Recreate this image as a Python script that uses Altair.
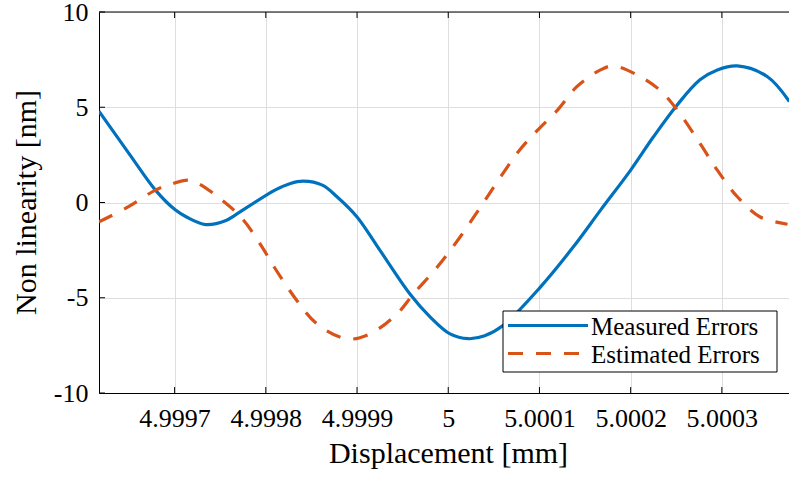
import altair as alt
import pandas as pd

# ---- data ----
series = ["Measured Errors", "Estimated Errors"]

meas_x = [4.999617, 4.999651, 4.999679, 4.999701, 4.999713, 4.999734, 4.999757,
          4.999766, 4.999810, 4.999827, 4.999841, 4.999862, 4.999878, 4.999900,
          4.999925, 4.999958, 4.999980, 5.000002, 5.000022, 5.000040, 5.000060,
          5.000101, 5.000137, 5.000167, 5.000200, 5.000225, 5.000251, 5.000276,
          5.000295, 5.000317, 5.000350, 5.000374]
meas_y = [4.8, 2.5, 0.65, -0.4, -0.76, -1.16, -0.93,
          -0.67, 0.65, 1.0, 1.12, 0.91, 0.3, -0.76,
          -2.5, -4.8, -6.0, -6.9, -7.15, -7.0, -6.46,
          -4.44, -2.34, -0.4, 1.7, 3.45, 5.12, 6.44,
          6.96, 7.17, 6.6, 5.3]

est_x = [4.999617, 4.999649, 4.999679, 4.999696, 4.999715, 4.999726, 4.999752,
         4.999774, 4.999796, 4.999808, 4.999834, 4.999856, 4.999889, 4.999914,
         4.999944, 4.999962, 4.999988, 5.000013, 5.000038, 5.000060, 5.000079,
         5.000098, 5.000120, 5.000141, 5.000167, 5.000181, 5.000207, 5.000232,
         5.000251, 5.000276, 5.000295, 5.000317, 5.000342, 5.000372]
est_y = [-1.02, -0.23, 0.65, 0.96, 1.17, 1.0, 0.12,
         -0.84, -2.34, -3.3, -5.14, -6.37, -7.16, -6.9,
         -5.84, -4.79, -3.39, -1.81, -0.05, 1.53, 2.8,
         3.8, 4.86, 6.08, 6.96, 7.17, 6.7, 5.9,
         4.86, 3.1, 1.7, 0.3, -0.76, -1.14]

x_ticks = [4.9997, 4.9998, 4.9999, 5.0, 5.0001, 5.0002, 5.0003]
y_ticks = [-10, -5, 0, 5, 10]
x_domain = [4.9996171, 5.0003736]
y_domain = [-10, 10]

colors = ["#0072BD", "#D95319"]
FONT = "Liberation Serif"
W, H = 690, 381

meas_df = pd.DataFrame({"x": meas_x, "y": meas_y, "series": series[0]})
est_df = pd.DataFrame({"x": est_x, "y": est_y, "series": series[1]})
xt_df = pd.DataFrame({"v": x_ticks})
yt_df = pd.DataFrame({"v": y_ticks})
one = pd.DataFrame({"k": [0]})

xs = alt.Scale(domain=x_domain, nice=False, zero=False)
ys = alt.Scale(domain=y_domain, nice=False, zero=False)

x_axis = alt.Axis(values=x_ticks, labelExpr="'' + datum.value", title="Displacement [mm]",
                  grid=True, ticks=False, labelPadding=12, labelFlush=False, labelOverlap=False,
                  labelFont=FONT, labelFontSize=26, titleFont=FONT, titleFontSize=30,
                  titleY=69, titleX=349, titleBaseline="alphabetic", titleAnchor="middle")
y_axis = alt.Axis(values=y_ticks, labelExpr="'' + datum.value", title="Non linearity [nm]",
                  grid=True, ticks=False, labelPadding=11, labelFlush=False, labelOverlap=False,
                  labelFont=FONT, labelFontSize=26, titleFont=FONT, titleFontSize=30,
                  titleX=-64, titleY=190, titleAngle=270, titleBaseline="alphabetic",
                  titleAlign="center")

base_lines = alt.Chart(meas_df).mark_line(
    color=colors[0], strokeWidth=3.2, interpolate="catmull-rom", clip=True
).encode(
    x=alt.X("x:Q", scale=xs, axis=x_axis),
    y=alt.Y("y:Q", scale=ys, axis=y_axis),
)

est_line = alt.Chart(est_df).mark_line(
    color=colors[1], strokeWidth=3.2, strokeDash=[15, 13], interpolate="catmull-rom", clip=True
).encode(
    x=alt.X("x:Q", scale=xs),
    y=alt.Y("y:Q", scale=ys),
)

# inward tick marks (box style)
xt_bottom = alt.Chart(xt_df).mark_rule(color="black", strokeWidth=1).encode(
    x=alt.X("v:Q", scale=xs), y=alt.value(H), y2=alt.value(H - 6))
xt_top = alt.Chart(xt_df).mark_rule(color="black", strokeWidth=1).encode(
    x=alt.X("v:Q", scale=xs), y=alt.value(0), y2=alt.value(6))
yt_left = alt.Chart(yt_df).mark_rule(color="black", strokeWidth=1).encode(
    y=alt.Y("v:Q", scale=ys), x=alt.value(0), x2=alt.value(6))
top_border = alt.Chart(one).mark_rule(color="black", strokeWidth=1).encode(
    x=alt.value(0), x2=alt.value(W), y=alt.value(0))

# legend box (manual, MATLAB style)
leg_x0, leg_y0, leg_w, leg_h = 404, 299, 274, 61
row_y = [313.5, 341.5]
legend_layers = [
    alt.Chart(one).mark_rect(fill="white", stroke="black", strokeWidth=1).encode(
        x=alt.value(leg_x0), x2=alt.value(leg_x0 + leg_w),
        y=alt.value(leg_y0), y2=alt.value(leg_y0 + leg_h))
]
for i, name in enumerate(series):
    dash = [1, 0] if i == 0 else [15, 13]
    legend_layers.append(
        alt.Chart(pd.DataFrame({"s": [name]})).mark_rule(
            color=colors[i], strokeWidth=3.2, strokeDash=dash).encode(
            x=alt.value(leg_x0 + 5), x2=alt.value(leg_x0 + 85), y=alt.value(row_y[i])))
    legend_layers.append(
        alt.Chart(pd.DataFrame({"s": [name]})).mark_text(
            align="left", baseline="middle", font=FONT, fontSize=25, color="black").encode(
            text="s:N", x=alt.value(leg_x0 + 88), y=alt.value(row_y[i] + 1)))

chart = alt.layer(
    base_lines, est_line, xt_bottom, xt_top, yt_left, top_border, *legend_layers
).properties(
    width=W, height=H,
    background="white",
    autosize=alt.AutoSizeParams(type="none"),
    padding={"left": 99, "top": 12, "right": 0, "bottom": 86},
).configure_view(
    stroke=None
).configure_axis(
    domainColor="black", domainWidth=1, gridColor="#dedede", gridWidth=1,
    labelFont=FONT, labelFontSize=26, labelColor="black",
    titleFont=FONT, titleFontSize=30, titleFontWeight="normal", titleColor="black",
)

chart.save("out.html", embed_options={"renderer": "svg", "actions": False})
